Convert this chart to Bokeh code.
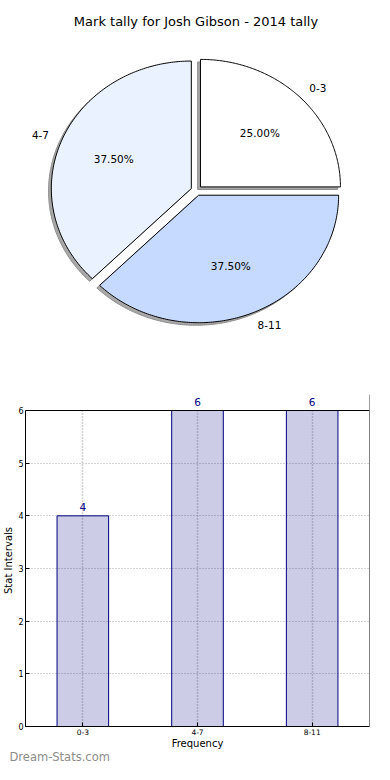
import numpy as np
from bokeh.plotting import figure
from bokeh.layouts import column
from bokeh.models import (ColumnDataSource, Range1d, FactorRange, LabelSet, Label, FixedTicker,
                          Title, BoxAnnotation, Span)
from bokeh.core.properties import value
from bokeh.embed import file_html
from bokeh.resources import INLINE

# ---------------- data ----------------
title_text = "Mark tally for Josh Gibson - 2014 tally"
categories = ["0-3", "4-7", "8-11"]
counts = [4, 6, 6]
pie_colors = ["#FFFFFF", "#EBF2FF", "#C6D9FF"]
explode = [0.04, 0.04, 0.04]
y_ticks = [0, 1, 2, 3, 4, 5, 6]
x_axis_label = "Frequency"
y_axis_label = "Stat Intervals"
watermark = "Dream-Stats.com"

FONT = "DejaVu Sans"

# ---------------- layout constants (pixels) ----------------
LEFT_PANEL, FW, RIGHT = 16, 344, 12
FRAME_L = 8 + LEFT_PANEL
FRAME_R = FRAME_L + FW
PIE_FH = 375
PIE_C_OFF = 190            # pie centre below the top of the pie frame
TITLE_OFF = 21             # title centre below the top of the pie frame
CX, RX, RY = 195.0, 140.0, 127.5
BAR_TOP_BORDER = 19
PPU = 316.0 / 6            # bar chart pixels per unit
LABEL_ROOM = 16            # strip above the box for the value labels
BAR_FH = 332

# ---------------- pie ----------------
total = float(sum(counts))
fracs = np.array(counts) / total
ends = np.cumsum(fracs) * 2 * np.pi
starts = ends - fracs * 2 * np.pi
mids = (starts + ends) / 2

xs, ys, sxs, sys_ = [], [], [], []
lab_x, lab_y, lab_align, pct_x, pct_y, pct_txt = [], [], [], [], [], []
for a0, a1, e, m, f in zip(starts, ends, explode, mids, fracs):
    cx, cy = e * np.cos(m), e * np.sin(m)
    t = np.linspace(a0, a1, 150)
    px = np.concatenate([[cx], cx + np.cos(t), [cx]])
    py = np.concatenate([[cy], cy + np.sin(t), [cy]])
    xs.append(px.tolist())
    ys.append(py.tolist())
    sxs.append((px - 0.02).tolist())
    sys_.append((py - 0.02).tolist())
    lx, ly = cx + 1.1 * np.cos(m), cy + 1.1 * np.sin(m)
    lab_x.append(lx)
    lab_y.append(ly)
    lab_align.append("left" if lx > 0 else "right")
    pct_x.append(cx + 0.6 * np.cos(m))
    pct_y.append(cy + 0.6 * np.sin(m))
    pct_txt.append("%.2f%%" % (f * 100))

pie = figure(frame_width=FW, frame_height=PIE_FH, toolbar_location=None, output_backend="svg",
             x_range=Range1d((FRAME_L - CX) / RX, (FRAME_R - CX) / RX),
             y_range=Range1d(-(PIE_FH - PIE_C_OFF) / RY, PIE_C_OFF / RY),
             x_axis_location=None, y_axis_location=None,
             min_border_left=LEFT_PANEL, min_border_right=RIGHT, min_border_top=0,
             min_border_bottom=0)
pie.grid.visible = False
pie.outline_line_color = None

pie.add_layout(Label(x=FW / 2 - 1.5, y=PIE_FH - TITLE_OFF, x_units="screen", y_units="screen",
                     text=title_text, text_align="center", text_baseline="middle",
                     text_font=FONT, text_font_size="13px", text_color="black"))

pie.patches(xs=sxs, ys=sys_, fill_color="#a8a8a8", line_color="#8c8c8c", line_width=1)
pie.patches(xs=xs, ys=ys, fill_color=pie_colors, line_color="black", line_width=1)

lab_src = ColumnDataSource(dict(x=lab_x, y=lab_y, t=categories, a=lab_align))
pie.text(x="x", y="y", text="t", text_align="a", text_baseline="middle", source=lab_src,
         text_font=value(FONT), text_font_size="10.5px", text_color="black")
pct_src = ColumnDataSource(dict(x=pct_x, y=pct_y, t=pct_txt))
pie.text(x="x", y="y", text="t", text_align="center", text_baseline="middle", source=pct_src,
         text_font=value(FONT), text_font_size="10.5px", text_color="black")

# ---------------- bar ----------------
Y_TOP = max(y_ticks) + LABEL_ROOM / PPU
bar = figure(frame_width=FW, frame_height=BAR_FH, toolbar_location=None, output_backend="svg",
             x_range=FactorRange(*categories), y_range=Range1d(0, Y_TOP),
             min_border_left=LEFT_PANEL, min_border_right=RIGHT,
             min_border_top=BAR_TOP_BORDER, min_border_bottom=0)
src = ColumnDataSource(dict(cat=categories, cnt=counts, lbl=[str(c) for c in counts]))
bar.vbar(x="cat", top="cnt", width=0.45, source=src, fill_color="navy", fill_alpha=0.2,
         line_color="navy", line_width=1)

bar.outline_line_color = None
for g in (bar.xgrid, bar.ygrid):
    g.grid_line_color = "#a8a8a8"
    g.grid_line_dash = "1 2"
    g.grid_line_width = 1
bar.xgrid.grid_line_width = 1.5

# right edge of the axes box, then a blank strip above the box top for the value labels
bar.add_layout(Span(location=len(categories), dimension="height", line_color="black", line_width=1))
bar.add_layout(BoxAnnotation(bottom=max(y_ticks), fill_color="white", fill_alpha=1, line_color=None))
bar.add_layout(Span(location=max(y_ticks), dimension="width", line_color="black", line_width=1))
bar.add_layout(LabelSet(x="cat", y="cnt", text="lbl", source=src, y_offset=5,
                        text_align="center", text_baseline="bottom", text_color="navy",
                        text_font=value(FONT), text_font_size="10.5px"))

for ax in (bar.xaxis[0], bar.yaxis[0]):
    ax.axis_line_color = "black"
    ax.major_tick_line_color = "black"
    ax.major_tick_in = 4
    ax.major_tick_out = 0
    ax.minor_tick_line_color = None
    ax.major_label_text_font = FONT
    ax.major_label_text_color = "black"
    ax.axis_label_text_font = FONT
    ax.axis_label_text_font_style = "normal"
    ax.axis_label_text_color = "black"
bar.yaxis[0].bounds = (0, max(y_ticks))
bar.yaxis[0].ticker = FixedTicker(ticks=y_ticks)
bar.yaxis[0].major_label_text_font_size = "8px"
bar.yaxis[0].major_label_standoff = 2
bar.yaxis[0].axis_label = y_axis_label
bar.yaxis[0].axis_label_standoff = 1
bar.yaxis[0].axis_label_text_font_size = "10px"
bar.xaxis[0].major_label_text_font_size = "7.5px"
bar.xaxis[0].major_label_standoff = 2
bar.xaxis[0].axis_label = x_axis_label
bar.xaxis[0].axis_label_standoff = 0
bar.xaxis[0].axis_label_text_font_size = "10px"

wm = Title(text=watermark, align="left", vertical_align="top", offset=-LEFT_PANEL, standoff=-4,
           text_font=FONT, text_font_size="11.5px", text_font_style="normal",
           text_color="#8c8c8c")
bar.add_layout(wm, "below")

layout = column(pie, bar)
open("out.html", "w").write(file_html(layout, INLINE))
